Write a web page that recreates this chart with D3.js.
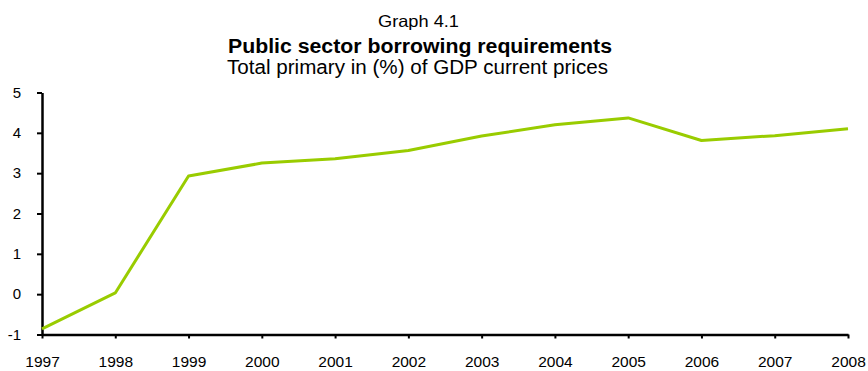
<!DOCTYPE html>
<html><head><meta charset="utf-8">
<script src="https://cdn.jsdelivr.net/npm/d3@7"></script>
<style>body{margin:0;background:#fff;}svg{display:block;font-family:"Liberation Sans",Arial,sans-serif;}</style>
</head><body>
<svg id="c" width="868" height="371"></svg>
<script>
const years = ["1997","1998","1999","2000","2001","2002","2003","2004","2005","2006","2007","2008"];
const values = [-0.86, 0.03, 2.93, 3.25, 3.36, 3.56, 3.92, 4.2, 4.37, 3.81, 3.93, 4.1];
const yTicks = [-1, 0, 1, 2, 3, 4, 5];

const svg = d3.select("#c");
const x = d3.scalePoint().domain(years).range([42, 848]);
const y = d3.scaleLinear().domain([-1, 5]).range([334.5, 92.5]);

svg.append("text").attr("x", 418.5).attr("y", 26.5).attr("text-anchor", "middle").attr("font-size", 16.5)
  .attr("textLength", 81).attr("lengthAdjust", "spacingAndGlyphs").text("Graph 4.1");
svg.append("text").attr("x", 420).attr("y", 53).attr("text-anchor", "middle").attr("font-size", 20).attr("font-weight", "bold")
  .attr("textLength", 384).attr("lengthAdjust", "spacingAndGlyphs").text("Public sector borrowing requirements");
svg.append("text").attr("x", 417.5).attr("y", 74).attr("text-anchor", "middle").attr("font-size", 20)
  .attr("textLength", 381).attr("lengthAdjust", "spacingAndGlyphs").text("Total primary in (%) of GDP current prices");

const ya = svg.append("g").attr("transform", "translate(42,0)")
  .call(d3.axisLeft(y).tickValues(yTicks).tickFormat(d => String(d)).tickSize(5).tickSizeOuter(0));
ya.select(".domain").attr("stroke", "#000").attr("stroke-width", 2.5);
ya.selectAll(".tick line").attr("stroke", "#000").attr("stroke-width", 2);
ya.selectAll(".tick text").attr("font-size", 15).attr("fill", "#000").attr("x", -21).attr("font-family", "Liberation Sans, Arial, sans-serif");

const xa = svg.append("g").attr("transform", `translate(0,${y(-1)})`)
  .call(d3.axisBottom(x).tickSize(4).tickSizeOuter(0));
xa.select(".domain").attr("stroke", "#000").attr("stroke-width", 2.5);
xa.selectAll(".tick line").attr("stroke", "#000").attr("stroke-width", 2);
xa.selectAll(".tick text").attr("font-size", 15.5).attr("fill", "#000").attr("y", 21).attr("font-family", "Liberation Sans, Arial, sans-serif");

svg.append("path").datum(values)
  .attr("fill", "none").attr("stroke", "#99cc00").attr("stroke-width", 3).attr("stroke-linejoin", "round")
  .attr("d", d3.line().x((d, i) => x(years[i])).y(d => y(d)));
</script>
</body></html>
